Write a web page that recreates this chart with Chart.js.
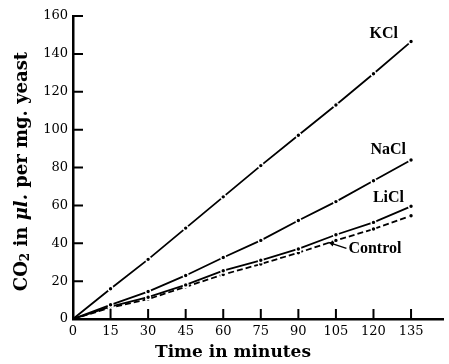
<!DOCTYPE html>
<html>
<head>
<meta charset="utf-8">
<script src="https://cdn.jsdelivr.net/npm/chart.js@4.4.0/dist/chart.umd.min.js"></script>
<style>
  html, body { margin: 0; padding: 0; background: #fff; }
  #wrap { width: 449px; height: 364px; }
</style>
</head>
<body>
<div id="wrap"><canvas id="chart" width="449" height="364"></canvas></div>
<script>
// CO2 production of yeast with added salts

// ===== data =====
const minutes = [0, 15, 30, 45, 60, 75, 90, 105, 120, 135];
const kcl     = [0, 16, 31.5, 48, 64.5, 81, 97, 113, 129.5, 146.5];
const nacl    = [0, 7.5, 14.5, 23, 32.5, 41.5, 52, 62, 73, 84];
const licl    = [0, 6.5, 11.5, 18, 25.5, 31, 37, 44.5, 51, 59.5];
const control = [0, 6, 10.5, 17, 23.5, 29, 35, 41.5, 47.5, 54.5];

const xTicks = [0, 15, 30, 45, 60, 75, 90, 105, 120, 135];
const yTicks = [0, 20, 40, 60, 80, 100, 120, 140, 160];

const seriesNames = ["KCl", "NaCl", "LiCl", "Control"];

// ===== helpers =====
const TICK_FONT = { family: "DejaVu Serif", size: 13 };
const LABEL_FONT = "bold 16px 'Liberation Serif'";
const TITLE_FONT = "bold 17px 'DejaVu Serif'";
const YTITLE_FONT = "bold 18px 'DejaVu Serif'";

function toPoints(ys) {
  return minutes.map((m, i) => ({ x: m, y: ys[i] }));
}

function lineSet(label, ys, dashed) {
  return {
    label,
    data: toPoints(ys),
    borderColor: "#000",
    borderWidth: 1.8,
    borderDash: dashed ? [6, 3] : [],
    pointRadius: ys.map((_, i) => (i === 0 ? 0 : 2.4)),
    pointBackgroundColor: "#000",
    pointBorderColor: "#fff",
    pointBorderWidth: 1.4,
    tension: 0,
    fill: false,
  };
}

// ticks point inward from the axes
const innerTicks = {
  id: "innerTicks",
  afterDraw(chart) {
    const { ctx, scales: { x, y } } = chart;
    ctx.save();
    ctx.strokeStyle = "#000";
    ctx.lineWidth = 2;
    ctx.beginPath();
    xTicks.forEach((v) => {
      if (v === 0) return;
      const px = x.getPixelForValue(v);
      ctx.moveTo(px, y.bottom);
      ctx.lineTo(px, y.bottom - 10);
    });
    yTicks.forEach((v) => {
      if (v === 0) return;
      const py = y.getPixelForValue(v);
      ctx.moveTo(x.left, py);
      ctx.lineTo(x.left + 10, py);
    });
    ctx.stroke();
    ctx.restore();
  },
};

// axis titles and the series labels written beside the lines
const annotations = {
  id: "annotations",
  afterDraw(chart) {
    const { ctx, scales: { x, y } } = chart;
    ctx.save();
    ctx.fillStyle = "#000";

    // x title
    ctx.font = TITLE_FONT;
    ctx.textAlign = "center";
    ctx.textBaseline = "middle";
    ctx.fillText("Time in minutes", x.left + 160, 353);

    // y title, rotated, with subscript and italic mu
    const runs = [
      { t: "CO", f: YTITLE_FONT, dy: 0 },
      { t: "2", f: "bold 12px 'DejaVu Serif'", dy: 4 },
      { t: " in ", f: YTITLE_FONT, dy: 0 },
      { t: "\u03bcl.", f: "italic bold 18px 'DejaVu Serif'", dy: 0 },
      { t: " per mg. yeast", f: YTITLE_FONT, dy: 0 },
    ];
    let total = 0;
    runs.forEach((r) => { ctx.font = r.f; r.w = ctx.measureText(r.t).width; total += r.w; });
    ctx.translate(22, (y.top + y.bottom) / 2 + 4);
    ctx.rotate(-Math.PI / 2);
    ctx.textAlign = "left";
    let cx = -total / 2;
    runs.forEach((r) => {
      ctx.font = r.f;
      ctx.fillText(r.t, cx, r.dy);
      cx += r.w;
    });
    ctx.setTransform(1, 0, 0, 1, 0, 0);

    // series labels near the line ends
    ctx.font = LABEL_FONT;
    ctx.textAlign = "right";
    ctx.textBaseline = "middle";
    const endX = x.getPixelForValue(minutes[minutes.length - 1]);
    const last = (arr) => y.getPixelForValue(arr[arr.length - 1]);
    ctx.fillText(seriesNames[0], endX - 13, last(kcl) - 8);
    ctx.fillText(seriesNames[1], endX - 5, last(nacl) - 10);
    ctx.fillText(seriesNames[2], endX - 7, last(licl) - 8);

    // Control label with arrow pointing at its line
    const tipX = x.getPixelForValue(102);
    const tipY = y.getPixelForValue(40.5);
    const tailX = tipX + 18, tailY = tipY + 6;
    ctx.strokeStyle = "#000";
    ctx.lineWidth = 1.3;
    ctx.beginPath();
    ctx.moveTo(tailX, tailY);
    ctx.lineTo(tipX, tipY);
    ctx.stroke();
    const ang = Math.atan2(tipY - tailY, tipX - tailX);
    ctx.beginPath();
    ctx.moveTo(tipX, tipY);
    ctx.lineTo(tipX - 6 * Math.cos(ang - 0.45), tipY - 6 * Math.sin(ang - 0.45));
    ctx.lineTo(tipX - 6 * Math.cos(ang + 0.45), tipY - 6 * Math.sin(ang + 0.45));
    ctx.closePath();
    ctx.fill();
    ctx.textAlign = "left";
    ctx.fillText(seriesNames[3], tailX + 2, tailY + 1);

    ctx.restore();
  },
};

// ===== chart =====
new Chart(document.getElementById("chart"), {
  type: "line",
  data: {
    datasets: [
      lineSet(seriesNames[0], kcl, false),
      lineSet(seriesNames[1], nacl, false),
      lineSet(seriesNames[2], licl, false),
      lineSet(seriesNames[3], control, true),
    ],
  },
  options: {
    responsive: false,
    devicePixelRatio: 1,
    animation: false,
    layout: { padding: { top: 16, right: 0, left: 0, bottom: 0 } },
    plugins: { legend: { display: false }, tooltip: { enabled: false } },
    scales: {
      x: {
        type: "linear",
        min: 0,
        max: 148,
        afterBuildTicks: (s) => { s.ticks = xTicks.map((v) => ({ value: v })); },
        afterFit: (s) => { s.height = 45; },
        grid: { display: false, drawTicks: false },
        border: { color: "#000", width: 2.5 },
        ticks: { color: "#000", font: TICK_FONT, padding: 5, maxRotation: 0, autoSkip: false },
      },
      y: {
        min: 0,
        max: 160,
        afterBuildTicks: (s) => { s.ticks = yTicks.map((v) => ({ value: v })); },
        afterFit: (s) => { s.width = 73; },
        grid: { display: false, drawTicks: false },
        border: { color: "#000", width: 2.5 },
        ticks: { color: "#000", font: TICK_FONT, padding: 5 },
      },
    },
  },
  plugins: [innerTicks, annotations],
});
</script>
</body>
</html>
